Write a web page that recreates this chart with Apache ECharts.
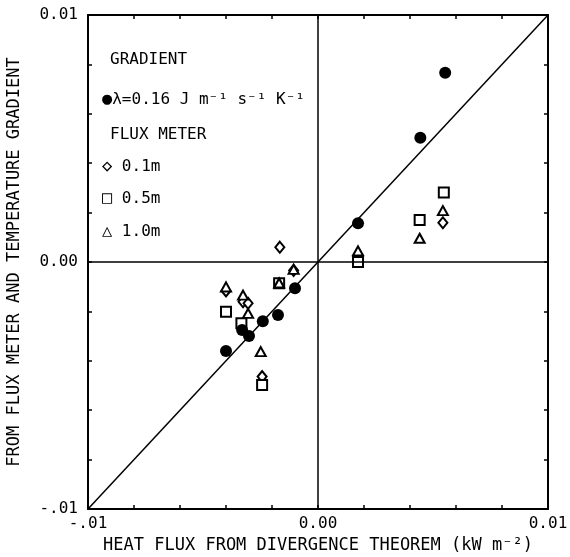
<!DOCTYPE html>
<html>
<head>
<meta charset="utf-8">
<script src="https://cdn.jsdelivr.net/npm/echarts@6/dist/echarts.min.js"></script>
<style>
  html, body { margin: 0; padding: 0; background: #fff; }
  #chart { width: 570px; height: 557px; }
</style>
</head>
<body>
<div id="chart"></div>
<script>
// data (kW m-2)
const gradientPts = [
  [-0.0040, -0.0036], [-0.0033, -0.00275], [-0.0030, -0.0030], [-0.0024, -0.0024],
  [-0.00174, -0.00215], [-0.0010, -0.00106], [0.00174, 0.00157], [0.00445, 0.00503],
  [0.00553, 0.00766]
]
const meter01 = [
  [-0.00166, 0.0006], [-0.0040, -0.00117], [-0.00326, -0.00161], [-0.00304, -0.00167],
  [-0.00243, -0.00464], [-0.00106, -0.00034], [0.00174, 0.00024], [0.00543, 0.00159]
]
const meter05 = [
  [-0.0040, -0.00201], [-0.00333, -0.00248], [-0.00243, -0.00498], [-0.00169, -0.00086],
  [0.00174, 0.0], [0.00442, 0.0017], [0.00547, 0.00281]
]
const meter10 = [
  [-0.0040, -0.00101], [-0.00326, -0.00134], [-0.00304, -0.00208], [-0.00249, -0.00363],
  [-0.00169, -0.00085], [-0.00106, -0.0003], [0.00174, 0.00045], [0.00442, 0.00096],
  [0.00543, 0.00208]
]
const onetoone = [[-0.01, -0.01], [0.01, 0.01]]

const xTickVals = [-0.01, 0, 0.01]
const xTickText = ['-.01', '0.00', '0.01']
const yTickVals = [-0.01, 0, 0.01]
const yTickText = ['-.01', '0.00', '0.01']

const legendLines = [
  'GRADIENT',
  '{s|\u25CF}\u03BB=0.16 J m\u207B\u00B9 s\u207B\u00B9 K\u207B\u00B9',
  'FLUX METER',
  '{s|\u25C7} 0.1m',
  '{s|\u25A1} 0.5m',
  '{s|\u25B3} 1.0m'
]

const font = '"DejaVu Sans Mono", monospace'

function tickFmt(vals, text) {
  return function (v) {
    for (let i = 0; i < vals.length; i++) {
      if (Math.abs(v - vals[i]) < 1e-9) return text[i]
    }
    return ''
  }
}

function openMarker(symbol, size) {
  return {
    type: 'scatter',
    symbol: symbol,
    symbolSize: size,
    itemStyle: { color: '#fff', borderColor: '#000', borderWidth: 2, opacity: 1 },
    z: 3
  }
}

const chart = echarts.init(document.getElementById('chart'), null, { renderer: 'canvas' })

const axisCommon = {
  type: 'value',
  min: -0.01,
  max: 0.01,
  interval: 0.002,
  splitLine: { show: false },
  axisLine: { show: true, onZero: false, lineStyle: { color: '#000', width: 2 } },
  axisTick: { show: true, inside: true, length: 4, lineStyle: { color: '#000', width: 1.5 } }
}

const legendY = [52, 91, 127, 158, 190, 223]

let option = {
  animation: false,
  backgroundColor: '#fff',
  grid: { left: 88, right: 22, top: 15, bottom: 48, outerBoundsMode: 'none', containLabel: false },
  xAxis: [
    Object.assign({}, axisCommon, {
      position: 'bottom',
      name: 'HEAT FLUX FROM DIVERGENCE THEOREM (kW m\u207B\u00B2)',
      nameLocation: 'middle',
      nameGap: 28,
      nameTextStyle: { fontFamily: font, fontSize: 17, color: '#000' },
      axisLabel: {
        formatter: tickFmt(xTickVals, xTickText),
        fontFamily: font, fontSize: 16, color: '#000', margin: 7,
        showMinLabel: true, showMaxLabel: true
      }
    }),
    Object.assign({}, axisCommon, {
      position: 'top',
      axisLabel: { show: false }
    })
  ],
  yAxis: [
    Object.assign({}, axisCommon, {
      position: 'left',
      name: 'FROM FLUX METER AND TEMPERATURE GRADIENT',
      nameLocation: 'middle',
      nameGap: 65,
      nameTextStyle: { fontFamily: font, fontSize: 17, color: '#000' },
      axisLabel: {
        formatter: tickFmt(yTickVals, yTickText),
        fontFamily: font, fontSize: 16, color: '#000', margin: 10,
        showMinLabel: true, showMaxLabel: true
      }
    }),
    Object.assign({}, axisCommon, {
      position: 'right',
      axisLabel: { show: false }
    })
  ],
  series: [
    {
      type: 'line',
      data: onetoone,
      symbol: 'none',
      lineStyle: { color: '#000', width: 1.5 },
      silent: true,
      z: 1,
      markLine: {
        symbol: 'none',
        silent: true,
        label: { show: false },
        lineStyle: { color: '#000', width: 1.5, type: 'solid' },
        data: [{ xAxis: 0 }, { yAxis: 0 }]
      }
    },
    Object.assign(openMarker('diamond', [9, 11]), { data: meter01 }),
    Object.assign(openMarker('rect', 10), { data: meter05 }),
    Object.assign(openMarker('triangle', [10, 9]), { data: meter10 }),
    {
      type: 'scatter',
      symbol: 'circle',
      symbolSize: 12,
      itemStyle: { color: '#000', opacity: 1 },
      data: gradientPts,
      z: 4
    }
  ],
  graphic: legendLines.map((t, i) => ({
    type: 'text',
    left: (i === 0 || i === 2) ? 110 : 102,
    top: legendY[i],
    style: {
      text: t, font: '16px ' + font, fill: '#000',
      rich: { s: { fontFamily: font, fontSize: 17, fontWeight: 'bold', fill: '#000' } }
    }
  }))
}

chart.setOption(option)
</script>
</body>
</html>
